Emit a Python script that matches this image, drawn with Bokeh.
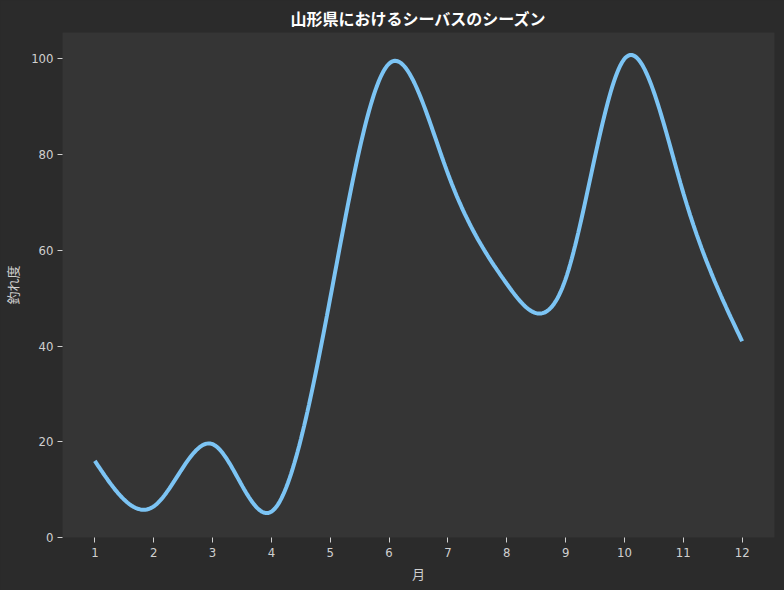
import numpy as np
from bokeh.plotting import figure
from bokeh.models import Range1d, FixedTicker
from bokeh.embed import file_html
from bokeh.resources import INLINE

# Data
months = [1, 2, 3, 4, 5, 6, 7, 8, 9, 10, 11, 12]
catch_level = [16, 6.5, 19.5, 5.4, 50, 99, 76, 53, 54, 100, 72, 41]
y_ticks = [0, 20, 40, 60, 80, 100]

TITLE = "山形県におけるシーバスのシーズン"
XLABEL = "月"
YLABEL = "釣れ度"


def natural_spline(xs, ys, n_out=400):
    xs = np.asarray(xs, float)
    ys = np.asarray(ys, float)
    n = len(xs)
    h = np.diff(xs)
    A = np.zeros((n, n))
    b = np.zeros(n)
    A[0, 0] = 1.0
    A[n - 1, n - 1] = 1.0
    for i in range(1, n - 1):
        A[i, i - 1] = h[i - 1]
        A[i, i] = 2 * (h[i - 1] + h[i])
        A[i, i + 1] = h[i]
        b[i] = 6 * ((ys[i + 1] - ys[i]) / h[i] - (ys[i] - ys[i - 1]) / h[i - 1])
    M = np.linalg.solve(A, b)
    xo = np.linspace(xs[0], xs[-1], n_out)
    idx = np.clip(np.searchsorted(xs, xo) - 1, 0, n - 2)
    x0, x1 = xs[idx], xs[idx + 1]
    hh = x1 - x0
    y0, y1 = ys[idx], ys[idx + 1]
    m0, m1 = M[idx], M[idx + 1]
    yo = (m0 * (x1 - xo) ** 3 / (6 * hh) + m1 * (xo - x0) ** 3 / (6 * hh)
          + (y0 / hh - m0 * hh / 6) * (x1 - xo) + (y1 / hh - m1 * hh / 6) * (xo - x0))
    return xo, yo


xs_smooth, ys_smooth = natural_spline(months, catch_level)

OUTER = "#2b2b2b"
INNER = "#353535"
TXT = "#d0d0d0"
FONT = "Noto Sans CJK JP"
NUMFONT = "DejaVu Sans Condensed, Liberation Sans Narrow, sans-serif"

p = figure(width=784, height=590, output_backend="svg", toolbar_location=None,
           x_range=Range1d(0.45, 12.55), y_range=Range1d(0, 105.5),
           title=TITLE)
p.background_fill_color = INNER
p.border_fill_color = OUTER
p.outline_line_color = None
p.min_border_left = 62
p.min_border_right = 10
p.min_border_top = 32
p.min_border_bottom = 53

p.title.text_color = "#ffffff"
p.title.text_font = FONT
p.title.text_font_size = "16px"
p.title.text_font_style = "bold"
p.title.align = "center"
p.title.standoff = 5

p.line(xs_smooth, ys_smooth, line_color="#7cc4f4", line_width=4)

p.grid.visible = False
for ax in (p.xaxis[0], p.yaxis[0]):
    ax.axis_line_color = None
    ax.major_tick_line_color = TXT
    ax.major_tick_out = 5
    ax.major_tick_in = 0
    ax.minor_tick_line_color = None
    ax.major_label_text_color = TXT
    ax.major_label_text_font = NUMFONT
    ax.major_label_text_font_size = "13px"
    ax.axis_label_text_color = TXT
    ax.axis_label_text_font = FONT
    ax.axis_label_text_font_size = "13px"
    ax.axis_label_text_font_style = "normal"

p.xaxis.ticker = FixedTicker(ticks=months)
p.yaxis.ticker = FixedTicker(ticks=y_ticks)
p.xaxis.axis_label = XLABEL
p.yaxis.axis_label = YLABEL
p.xaxis.major_label_standoff = 5
p.yaxis.major_label_standoff = 4
p.xaxis.axis_label_standoff = 4
p.yaxis.axis_label_standoff = 6

html = file_html(p, INLINE)
html = html.replace("</head>",
                    "<style>html,body{margin:0;padding:0;background:#2b2b2b;overflow:hidden;}</style></head>", 1)
open("out.html", "w").write(html)
